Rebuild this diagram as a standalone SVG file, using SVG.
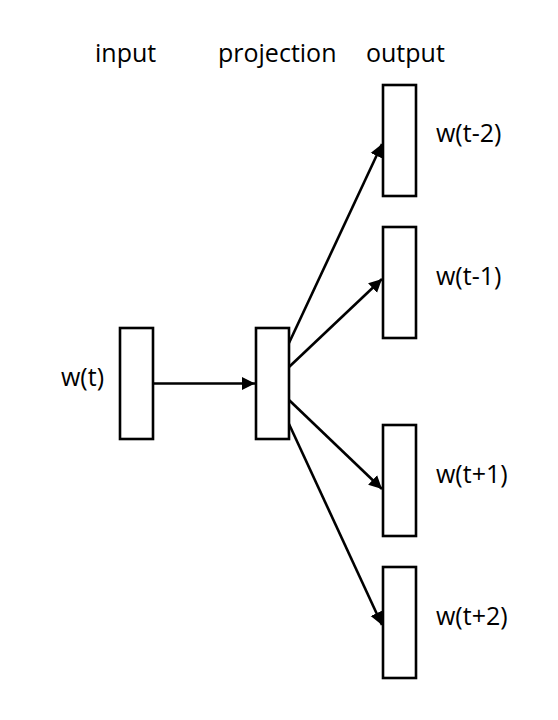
<svg xmlns="http://www.w3.org/2000/svg" width="558" height="720" viewBox="0 0 558 720">
<defs>
<style>
.box{fill:#fff;stroke:#000;stroke-width:2.6}
.lbl{font-family:"Open Sans","Noto Sans",sans-serif;font-size:25px;fill:#000}
.edge{stroke:#000;stroke-width:2.6;fill:none}
</style>
<marker id="ah" markerUnits="userSpaceOnUse" markerWidth="14" markerHeight="14" refX="13" refY="7" orient="auto" viewBox="0 0 14 14">
<path d="M0,0.5 L13,7 L0,13.5 z" fill="#000"/>
</marker>
</defs>
<rect width="558" height="720" fill="#fff"/>
<g id="headers">
<text class="lbl" x="95" y="62">input</text>
<text class="lbl" x="218" y="62">projection</text>
<text class="lbl" x="366" y="62">output</text>
</g>
<g id="connectors">
<line class="edge" x1="153" y1="383.5" x2="255" y2="383.5" marker-end="url(#ah)"/>
<line class="edge" x1="289" y1="343" x2="382" y2="144" marker-end="url(#ah)"/>
<line class="edge" x1="289" y1="367" x2="382" y2="279" marker-end="url(#ah)"/>
<line class="edge" x1="289" y1="400" x2="382" y2="489" marker-end="url(#ah)"/>
<line class="edge" x1="289" y1="424" x2="382" y2="625" marker-end="url(#ah)"/>
</g>
<g id="input">
<rect class="box" x="120" y="328" width="33" height="111"/>
<text class="lbl" x="61" y="386">w(t)</text>
</g>
<g id="projection">
<rect class="box" x="256" y="328" width="33" height="111"/>
</g>
<g id="out-t-2">
<rect class="box" x="383" y="85" width="33" height="111"/>
<text class="lbl" x="436" y="142">w(t-2)</text>
</g>
<g id="out-t-1">
<rect class="box" x="383" y="227" width="33" height="111"/>
<text class="lbl" x="436" y="285">w(t-1)</text>
</g>
<g id="out-t1">
<rect class="box" x="383" y="425" width="33" height="111"/>
<text class="lbl" x="436" y="483">w(t+1)</text>
</g>
<g id="out-t2">
<rect class="box" x="383" y="567" width="33" height="111"/>
<text class="lbl" x="436" y="625">w(t+2)</text>
</g>
</svg>
